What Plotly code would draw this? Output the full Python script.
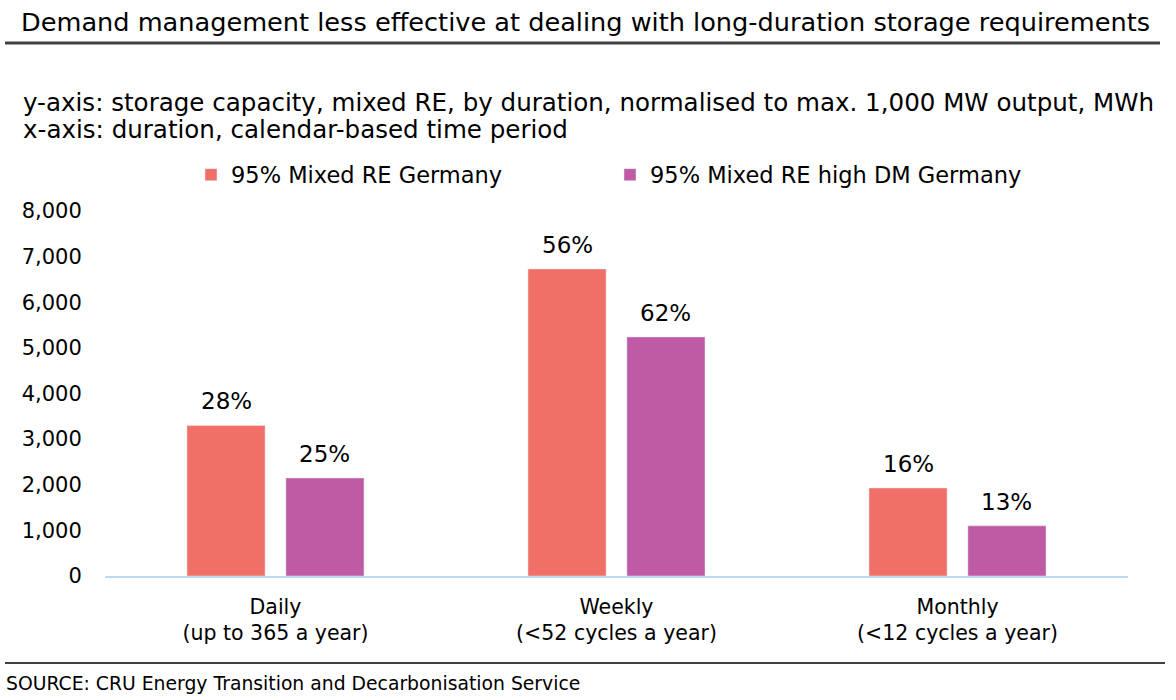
import plotly.graph_objects as go

categories = ["Daily<br>(up to 365 a year)", "Weekly<br>(<52 cycles a year)", "Monthly<br>(<12 cycles a year)"]
series_names = ["95% Mixed RE Germany", "95% Mixed RE high DM Germany"]
values_re = [3300, 6730, 1930]
values_dm = [2150, 5240, 1100]
labels_re = ["28%", "56%", "16%"]
labels_dm = ["25%", "62%", "13%"]
colors = ["#F07067", "#BF5BA5"]

W, H = 1176, 700
L, R, T, B = 105, 1176 - 1128, 211, 700 - 576
PW, PH = W - L - R, H - T - B

def px_x(x):
    return (x - L) / PW

def px_y(y):
    return (H - B - y) / PH

FONT = "DejaVu Sans, Liberation Sans, Arial, sans-serif"

fig = go.Figure()
fig.add_trace(go.Bar(x=categories, y=values_re, name=series_names[0], marker_color=colors[0]))
fig.add_trace(go.Bar(x=categories, y=values_dm, name=series_names[1], marker_color=colors[1]))

bargap = 0.42
bargroupgap = 0.21
slot = (1 - bargap) / 2
annotations = []
for i, (v, t) in enumerate(zip(values_re, labels_re)):
    annotations.append(dict(x=i - slot / 2, y=v, xref="x", yref="y", text=t, showarrow=False,
                            yanchor="bottom", yshift=9, font=dict(size=23, color="black", family=FONT)))
for i, (v, t) in enumerate(zip(values_dm, labels_dm)):
    annotations.append(dict(x=i + slot / 2, y=v, xref="x", yref="y", text=t, showarrow=False,
                            yanchor="bottom", yshift=9, font=dict(size=23, color="black", family=FONT)))

annotations.append(dict(x=px_x(21), y=px_y(102), xref="paper", yref="paper", xanchor="left", yanchor="middle",
                        text="y-axis: storage capacity, mixed RE, by duration, normalised to max. 1,000 MW output, MWh",
                        showarrow=False, font=dict(size=24.55, color="black", family=FONT)))
annotations.append(dict(x=px_x(21), y=px_y(130), xref="paper", yref="paper", xanchor="left", yanchor="middle",
                        text="x-axis: duration, calendar-based time period",
                        showarrow=False, font=dict(size=24.55, color="black", family=FONT)))
annotations.append(dict(x=px_x(4), y=px_y(683), xref="paper", yref="paper", xanchor="left", yanchor="middle",
                        text="SOURCE: CRU Energy Transition and Decarbonisation Service",
                        showarrow=False, font=dict(size=18.8, color="black", family=FONT)))

shapes = [
    dict(type="line", xref="paper", yref="paper", x0=px_x(5), x1=px_x(1160), y0=px_y(43), y1=px_y(43),
         line=dict(color="#404040", width=3)),
    dict(type="line", xref="paper", yref="paper", x0=px_x(5), x1=px_x(1165), y0=px_y(663), y1=px_y(663),
         line=dict(color="black", width=1.5)),
]

fig.update_layout(
    width=W, height=H,
    margin=dict(l=L, r=R, t=T, b=B),
    paper_bgcolor="white", plot_bgcolor="white",
    font=dict(family=FONT, color="black"),
    title=dict(text="Demand management less effective at dealing with long-duration storage requirements",
               xref="container", yref="container", x=21 / W, y=1 - 22 / H,
               xanchor="left", yanchor="middle",
               font=dict(size=25.6, color="black", family=FONT)),
    barmode="group", bargap=bargap, bargroupgap=bargroupgap,
    showlegend=True,
    legend=dict(orientation="h", x=px_x(191), xanchor="left", y=px_y(175), yanchor="middle",
                font=dict(size=22.5, color="black", family=FONT), entrywidth=374, entrywidthmode="pixels",
                itemclick=False, itemdoubleclick=False),
    annotations=annotations,
    shapes=shapes,
)
fig.update_xaxes(showline=True, linecolor="#BDD7EE", linewidth=2, showgrid=False, ticks="outside",
                 ticklen=11, tickcolor="rgba(0,0,0,0)", tickfont=dict(size=20.5, color="black", family=FONT),
                 fixedrange=True)
fig.update_yaxes(range=[0, 8000], dtick=1000, tickformat=",", showgrid=False, showline=False, zeroline=False,
                 ticks="outside", ticklen=18, tickcolor="rgba(0,0,0,0)",
                 tickfont=dict(size=21, color="black", family=FONT), fixedrange=True)

fig.write_html("out.html", config={"displayModeBar": False},
               post_script="document.body.style.margin='0px';")
